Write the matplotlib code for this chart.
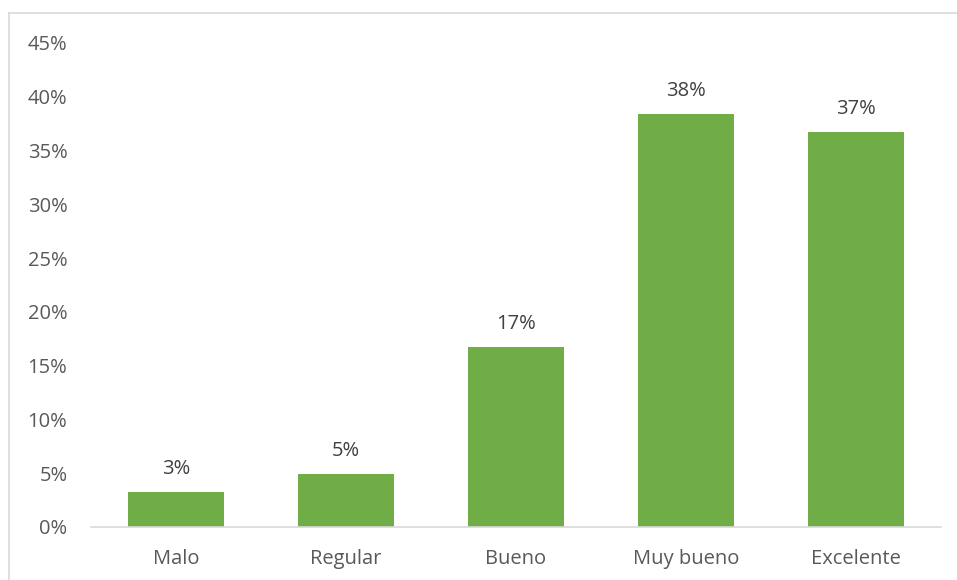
import matplotlib
matplotlib.use("Agg")
import matplotlib.pyplot as plt
from matplotlib.lines import Line2D

categories = ["Malo", "Regular", "Bueno", "Muy bueno", "Excelente"]
values = [3.3, 4.9, 16.7, 38.4, 36.7]  # percent
y_ticks = [0, 5, 10, 15, 20, 25, 30, 35, 40, 45]

plt.rcParams["font.family"] = ["Open Sans", "DejaVu Sans"]

W, H = 957, 580
fig = plt.figure(figsize=(W / 100, H / 100), dpi=100)
ax = fig.add_axes([91 / W, 1 - 527 / H, (941 - 91) / W, (527 - 43) / H])

x = list(range(len(categories)))
bars = ax.bar(x, values, width=0.565, color="#70AD47", zorder=2)

for xi, v in zip(x, values):
    ax.annotate(f"{v:.0f}%", (xi, v), xytext=(0, 16.5), textcoords="offset points",
                ha="center", va="center", fontsize=14.5, color="#404040")

ax.set_xlim(-0.5, len(categories) - 0.5)
ax.set_ylim(0, 45)
ax.set_yticks(y_ticks)
ax.set_yticklabels([f"{t}%" for t in y_ticks])
ax.set_xticks(x)
ax.set_xticklabels(categories)
ax.tick_params(axis="both", length=0, labelsize=14.5, colors="#595959")
ax.tick_params(axis="y", pad=17)
ax.tick_params(axis="x", pad=16)

for side in ("top", "right", "left"):
    ax.spines[side].set_visible(False)
ax.spines["bottom"].set_color("#D9D9D9")
ax.spines["bottom"].set_linewidth(1.2)

# chart-area frame (left and top edges)
fig.add_artist(Line2D([9 / W, 9 / W], [0, 1 - 13 / H], transform=fig.transFigure,
                      color="#D9D9D9", lw=1.2))
fig.add_artist(Line2D([9 / W, 1], [1 - 13 / H, 1 - 13 / H], transform=fig.transFigure,
                      color="#D9D9D9", lw=1.2))

fig.savefig("out.png", dpi=100, facecolor="white")
